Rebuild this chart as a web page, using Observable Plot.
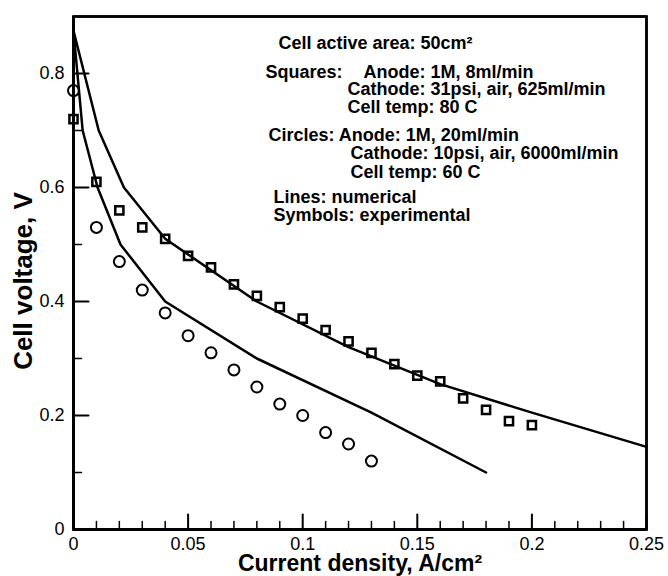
<!DOCTYPE html>
<html><head><meta charset="utf-8">
<script src="https://cdn.jsdelivr.net/npm/d3@7"></script>
<script src="https://cdn.jsdelivr.net/npm/@observablehq/plot@0.6"></script>
<style>
body{margin:0;background:#fff;position:relative;width:668px;height:576px;overflow:hidden}
#ytitle{position:absolute;left:23px;top:281px;transform:translate(-50%,-50%) rotate(-90deg);
  font:bold 26px 'Liberation Sans', Arial, Helvetica, sans-serif;color:#000;white-space:nowrap;line-height:1}
</style>
</head><body><div id="chart"></div><div id="ytitle"></div>
<script>
// Experimental data (squares: 80 C, circles: 60 C)
const squareCurrent = [0,0.01,0.02,0.03,0.04,0.05,0.06,0.07,0.08,0.09,0.10,0.11,0.12,0.13,0.14,0.15,0.16,0.17,0.18,0.19,0.20];
const squareVoltage = [0.72,0.61,0.56,0.53,0.51,0.48,0.46,0.43,0.41,0.39,0.37,0.35,0.33,0.31,0.29,0.27,0.26,0.23,0.21,0.19,0.183];
const circleCurrent = [0,0.01,0.02,0.03,0.04,0.05,0.06,0.07,0.08,0.09,0.10,0.11,0.12,0.13];
const circleVoltage = [0.77,0.53,0.47,0.42,0.38,0.34,0.31,0.28,0.25,0.22,0.20,0.17,0.15,0.12];
// Numerical model lines
const modelSqCurrent = [0,0.011,0.022,0.04,0.08,0.12,0.16,0.20,0.25];
const modelSqVoltage = [0.875,0.70,0.60,0.51,0.40,0.32,0.255,0.205,0.145];
const modelCiCurrent = [0,0.004,0.0105,0.0205,0.04,0.08,0.13,0.18];
const modelCiVoltage = [0.875,0.70,0.60,0.50,0.40,0.30,0.205,0.10];
// Axes
const xDomain = [0, 0.25];
const yDomain = [0, 0.9];
const xMajorTicks = [0,0.05,0.1,0.15,0.2,0.25];
const xMinorTicks = [0.01,0.02,0.03,0.04,0.06,0.07,0.08,0.09,0.11,0.12,0.13,0.14,0.16,0.17,0.18,0.19,0.21,0.22,0.23,0.24];
const yMajorTicks = [0,0.2,0.4,0.6,0.8];
const yMinorTicks = [0.1,0.3,0.5,0.7];
// Texts
const xTitle = "Current density, A/cm²";
const yTitle = "Cell voltage, V";
const notes = ["Cell active area: 50cm²","Squares:","Anode: 1M, 8ml/min","Cathode: 31psi, air, 625ml/min","Cell temp: 80 C","Circles: Anode: 1M, 20ml/min","Cathode: 10psi, air, 6000ml/min","Cell temp: 60 C","Lines: numerical","Symbols: experimental"];

const sqData = squareCurrent.map((x,i)=>({x, v: squareVoltage[i]}));
const ciData = circleCurrent.map((x,i)=>({x, v: circleVoltage[i]}));
const mSq = modelSqCurrent.map((x,i)=>({x, v: modelSqVoltage[i]}));
const mCi = modelCiCurrent.map((x,i)=>({x, v: modelCiVoltage[i]}));
const box = [[xDomain[0],yDomain[0]],[xDomain[0],yDomain[1]],[xDomain[1],yDomain[1]],[xDomain[1],yDomain[0]],[xDomain[0],yDomain[0]]]
  .map(([x,v])=>({x, v}));

const noteLayout = [[205,27],[192,56],[290,56],[274,73],[274,91],[195,119],[277,137],[277,156],[200,181],[200,199]];
const noteMarks = notes.map((t,i)=>Plot.text([t], {text: d=>d, frameAnchor:"top-left", textAnchor:"start", lineAnchor:"middle",
  dx: noteLayout[i][0], dy: noteLayout[i][1], fontSize: 18, fontWeight: "bold", fill:"black"}));

// inward tick shape (drawn upward from anchor, rotated as needed)
const tickShape = {draw(context, l) { context.moveTo(0, 0); context.lineTo(0, -l); }};

const chart = Plot.plot({
  width: 668, height: 576,
  marginLeft: 73, marginRight: 22, marginTop: 16, marginBottom: 47,
  style: {fontFamily: "'Liberation Sans', Arial, Helvetica, sans-serif", background: "white"},
  x: {domain: xDomain, axis: null},
  y: {domain: yDomain, axis: null},
  marks: [
    // tick labels
    Plot.text(xMajorTicks, {x: d=>d, text: d=>String(d), frameAnchor: "bottom", lineAnchor: "middle", dy: 15, fontSize: 18, fill: "black"}),
    Plot.text(yMajorTicks, {y: d=>d, text: d=>String(d), frameAnchor: "left", textAnchor: "end", lineAnchor: "middle", dx: -9, fontSize: 18, fill: "black"}),
    // x title
    Plot.text([xTitle], {text: d=>d, frameAnchor: "bottom", lineAnchor: "middle", dy: 34, fontSize: 23, fontWeight: "bold", fill: "black"}),
    // model lines
    Plot.line(mSq, {x: "x", y: "v", stroke: "black", strokeWidth: 2.5}),
    Plot.line(mCi, {x: "x", y: "v", stroke: "black", strokeWidth: 2.5}),
    // experimental symbols
    Plot.dot(sqData, {x: "x", y: "v", symbol: "square", r: 4.6, stroke: "black", strokeWidth: 2.5, fill: "none"}),
    Plot.dot(ciData, {x: "x", y: "v", symbol: "circle", r: 5.5, stroke: "black", strokeWidth: 2, fill: "none"}),
    ...noteMarks,
    // frame and axis lines
    Plot.frame({stroke: "black", strokeWidth: 2.5}),
    Plot.line(box, {x: "x", y: "v", stroke: "black", strokeWidth: 2.5}),
    Plot.ruleY([0], {stroke:"black", strokeWidth: 3}),
    Plot.ruleX([0], {stroke:"black", strokeWidth: 3}),
    // inward ticks
    Plot.vector(xMajorTicks, {x: d=>d, frameAnchor: "bottom", length: 15, anchor: "start", shape: tickShape, stroke: "black", strokeWidth: 2}),
    Plot.vector(xMinorTicks, {x: d=>d, frameAnchor: "bottom", length: 8, anchor: "start", shape: tickShape, stroke: "black", strokeWidth: 1.5}),
    Plot.vector(yMajorTicks, {y: d=>d, frameAnchor: "left", length: 15, rotate: 90, anchor: "start", shape: tickShape, stroke: "black", strokeWidth: 2}),
    Plot.vector(yMinorTicks, {y: d=>d, frameAnchor: "left", length: 8, rotate: 90, anchor: "start", shape: tickShape, stroke: "black", strokeWidth: 1.5})
  ]
});
document.getElementById("chart").appendChild(chart);
document.getElementById("ytitle").textContent = yTitle;
</script>
</body></html>
